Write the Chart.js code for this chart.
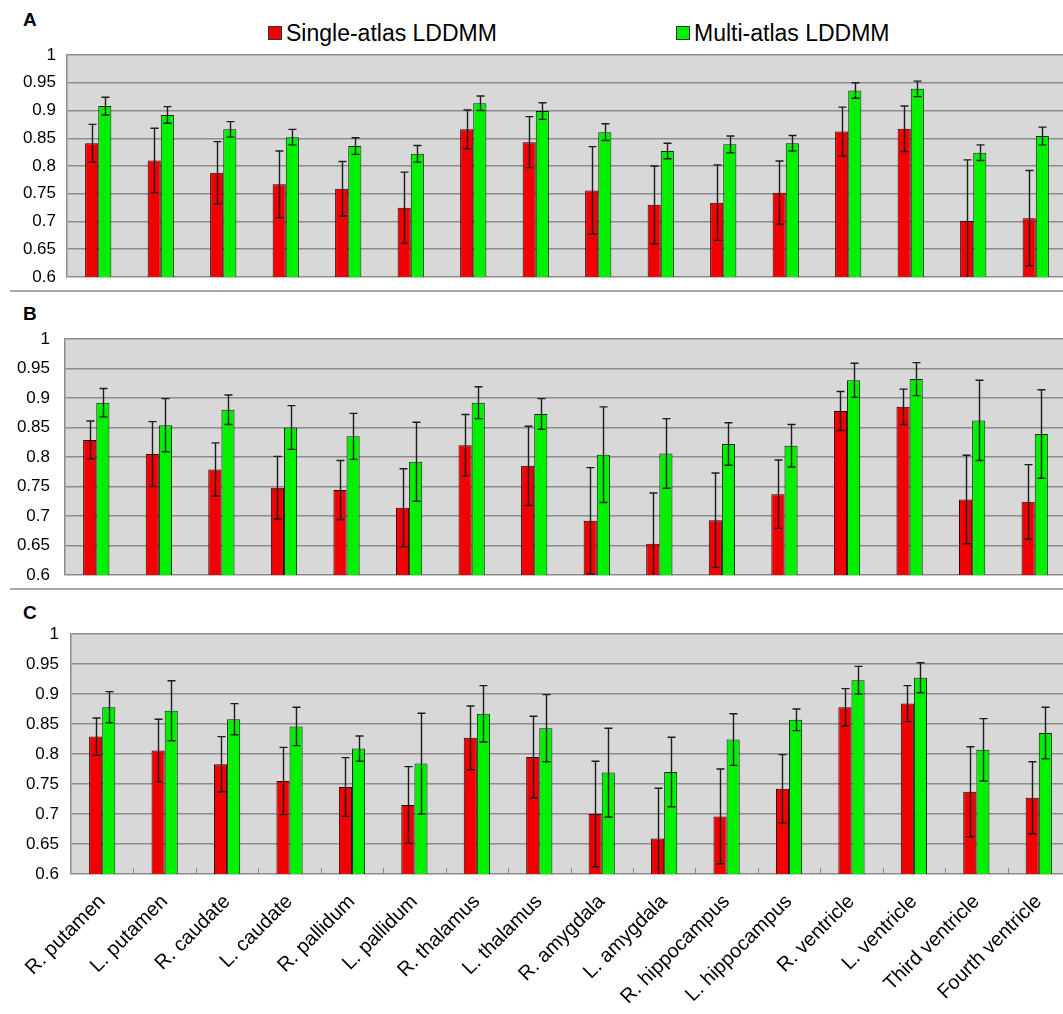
<!DOCTYPE html>
<html>
<head>
<meta charset="utf-8">
<script src="https://cdn.jsdelivr.net/npm/chart.js@4/dist/chart.umd.min.js"></script>
<style>
  html, body { margin: 0; padding: 0; background: #fff; }
  body { width: 1063px; height: 1014px; overflow: hidden; position: relative;
         font-family: "Liberation Sans", Arial, sans-serif; color: #000; }
  .panel { position: absolute; left: 0; width: 1075px; }
  .tag { position: absolute; left: 23px; font-weight: bold; font-size: 19px; line-height: 1; }
  .rule { position: absolute; left: 10px; width: 1060px; height: 0; border-top: 2px solid #a8a8a8; }
  .legend { position: absolute; top: 19px; font-size: 23px; line-height: 28px; display: flex; align-items: center; white-space: nowrap; }
  .legend i { display: inline-block; width: 12px; height: 12px; border: 1px solid #333; margin-right: 4px; }
</style>
</head>
<body>

<div class="legend" style="left:268px"><i style="background:#f20000"></i>Single-atlas LDDMM</div>
<div class="legend" style="left:676px"><i style="background:#00f000"></i>Multi-atlas LDDMM</div>

<div class="tag" style="top:10px">A</div>
<div class="tag" style="top:304px">B</div>
<div class="tag" style="top:603px">C</div>

<div class="rule" style="top:290px"></div>
<div class="rule" style="top:588px"></div>

<div class="panel" style="top:40px;height:250px"><canvas id="panelA"></canvas></div>
<div class="panel" style="top:320px;height:270px"><canvas id="panelB"></canvas></div>
<div class="panel" style="top:620px;height:394px"><canvas id="panelC"></canvas></div>

<script>
// Brain structures on the x axis
const structures = [
  'R. putamen', 'L. putamen', 'R. caudate', 'L. caudate',
  'R. pallidum', 'L. pallidum', 'R. thalamus', 'L. thalamus',
  'R. amygdala', 'L. amygdala', 'R. hippocampus', 'L. hippocampus',
  'R. ventricle', 'L. ventricle', 'Third ventricle', 'Fourth ventricle'
];

const seriesNames = ['Single-atlas LDDMM', 'Multi-atlas LDDMM'];

// Y axis ticks (Dice overlap)
const yTicks = [0.6, 0.65, 0.7, 0.75, 0.8, 0.85, 0.9, 0.95, 1];

// Panel A: means and standard deviations
const singleA    = [0.841, 0.810, 0.788, 0.767, 0.759, 0.725, 0.866, 0.843, 0.756, 0.730, 0.734, 0.752, 0.862, 0.867, 0.701, 0.706];
const singleA_sd = [0.034, 0.058, 0.056, 0.060, 0.049, 0.064, 0.035, 0.046, 0.079, 0.070, 0.068, 0.057, 0.044, 0.041, 0.110, 0.086];
const multiA     = [0.908, 0.892, 0.866, 0.852, 0.836, 0.822, 0.913, 0.899, 0.861, 0.827, 0.839, 0.841, 0.936, 0.939, 0.824, 0.854];
const multiA_sd  = [0.016, 0.015, 0.014, 0.014, 0.015, 0.015, 0.013, 0.015, 0.015, 0.014, 0.015, 0.014, 0.014, 0.014, 0.014, 0.016];

// Panel B
const singleB    = [0.829, 0.805, 0.779, 0.748, 0.744, 0.714, 0.820, 0.785, 0.692, 0.653, 0.693, 0.737, 0.878, 0.885, 0.728, 0.724];
const singleB_sd = [0.032, 0.055, 0.045, 0.053, 0.050, 0.066, 0.052, 0.067, 0.090, 0.086, 0.080, 0.058, 0.033, 0.030, 0.075, 0.063];
const multiB     = [0.892, 0.854, 0.880, 0.850, 0.835, 0.792, 0.892, 0.873, 0.804, 0.806, 0.822, 0.819, 0.930, 0.932, 0.862, 0.839];
const multiB_sd  = [0.024, 0.045, 0.025, 0.037, 0.039, 0.067, 0.027, 0.026, 0.081, 0.059, 0.036, 0.036, 0.029, 0.028, 0.068, 0.075];

// Panel C
const singleC    = [0.829, 0.806, 0.783, 0.755, 0.745, 0.715, 0.827, 0.795, 0.700, 0.659, 0.696, 0.742, 0.878, 0.884, 0.737, 0.727];
const singleC_sd = [0.031, 0.052, 0.046, 0.056, 0.049, 0.064, 0.053, 0.068, 0.088, 0.084, 0.079, 0.057, 0.031, 0.030, 0.075, 0.060];
const multiC     = [0.878, 0.872, 0.858, 0.846, 0.809, 0.784, 0.867, 0.843, 0.769, 0.770, 0.824, 0.857, 0.923, 0.927, 0.807, 0.835];
const multiC_sd  = [0.026, 0.050, 0.026, 0.032, 0.021, 0.084, 0.047, 0.056, 0.074, 0.058, 0.043, 0.018, 0.023, 0.025, 0.052, 0.043];

const FONT = '"Liberation Sans", Arial, sans-serif';
const RED = '#f20000';
const GREEN = '#00f000';
const GRID = '#8c8c8c';

// Grey plot background
const plotBackground = {
  id: 'plotBackground',
  beforeDraw(chart) {
    const { ctx, chartArea: a } = chart;
    ctx.save();
    ctx.fillStyle = '#d8d8d8';
    ctx.fillRect(a.left, a.top, a.right - a.left, a.bottom - a.top);
    ctx.restore();
  }
};

// Mean ± SD whiskers with caps at both ends
const errorBars = {
  id: 'errorBars',
  afterDatasetsDraw(chart) {
    const { ctx, chartArea: a, scales: { y } } = chart;
    ctx.save();
    ctx.beginPath();
    ctx.rect(a.left, a.top - 20, a.right - a.left, a.bottom - a.top + 20);
    ctx.clip();
    ctx.strokeStyle = '#1c1c1c';
    ctx.lineWidth = 1.4;
    chart.data.datasets.forEach((ds, di) => {
      chart.getDatasetMeta(di).data.forEach((bar, i) => {
        const m = ds.data[i], e = ds.errors[i];
        const yHi = y.getPixelForValue(m + e);
        const yLo = y.getPixelForValue(m - e);
        const x = Math.round(bar.x) + 0.5;
        const cap = 4;
        ctx.beginPath();
        ctx.moveTo(x, yHi); ctx.lineTo(x, yLo);
        ctx.moveTo(x - cap, yHi); ctx.lineTo(x + cap, yHi);
        ctx.moveTo(x - cap, yLo); ctx.lineTo(x + cap, yLo);
        ctx.stroke();
      });
    });
    ctx.restore();
  }
};

// Short upward ticks between categories on the bottom axis
const categoryTicks = {
  id: 'categoryTicks',
  afterDraw(chart, args, opts) {
    if (!opts.enabled) return;
    const { ctx, chartArea: a, scales: { x } } = chart;
    const n = chart.data.labels.length;
    ctx.save();
    ctx.strokeStyle = GRID;
    ctx.lineWidth = 1;
    ctx.beginPath();
    for (let i = 1; i < n; i++) {
      const bx = Math.round((x.getPixelForValue(i - 1) + x.getPixelForValue(i)) / 2) + 0.5;
      ctx.moveTo(bx, a.bottom);
      ctx.lineTo(bx, a.bottom - 6);
    }
    ctx.stroke();
    ctx.restore();
  }
};

function buildPanel(id, single, singleSd, multi, multiSd, cfg) {
  new Chart(document.getElementById(id), {
    type: 'bar',
    data: {
      labels: structures,
      datasets: [
        { label: seriesNames[0], data: single, errors: singleSd,
          backgroundColor: RED, borderColor: '#2a0000', borderWidth: 1 },
        { label: seriesNames[1], data: multi, errors: multiSd,
          backgroundColor: GREEN, borderColor: '#002a00', borderWidth: 1 }
      ]
    },
    options: {
      responsive: true,
      maintainAspectRatio: false,
      animation: false,
      devicePixelRatio: 1,
      datasets: { bar: { categoryPercentage: 0.42, barPercentage: 1.0 } },
      layout: { padding: { top: cfg.padTop, bottom: cfg.padBottom, left: 0, right: cfg.padRight } },
      plugins: {
        legend: { display: false },
        tooltip: { enabled: false },
        categoryTicks: { enabled: cfg.showLabels }
      },
      scales: {
        x: {
          display: cfg.showLabels,
          grid: { display: false },
          border: { display: false },
          ticks: {
            autoSkip: false,
            minRotation: 45,
            maxRotation: 45,
            padding: 8,
            color: '#000',
            font: { family: FONT, size: 20 }
          },
          afterFit(scale) { if (cfg.showLabels) scale.height = cfg.xHeight; }
        },
        y: {
          min: 0.6,
          max: 1,
          afterBuildTicks(scale) { scale.ticks = yTicks.map(v => ({ value: v })); },
          afterFit(scale) {
            scale.width = cfg.left;
            // the panel paddings already leave room for the end labels
            scale.paddingTop = 0;
            scale.paddingBottom = 0;
          },
          grid: { color: GRID, lineWidth: 1.5, drawTicks: false },
          border: { display: true, color: GRID, width: 1.5 },
          ticks: {
            padding: cfg.tickPad,
            color: '#000',
            font: { family: FONT, size: 17 },
            callback: v => String(Number(v.toFixed(2)))
          }
        }
      }
    },
    plugins: [plotBackground, errorBars, categoryTicks]
  });
}

buildPanel('panelA', singleA, singleA_sd, multiA, multiA_sd,
  { padTop: 15, padBottom: 13, padRight: 8, left: 67, tickPad: 11, showLabels: false });
buildPanel('panelB', singleB, singleB_sd, multiB, multiB_sd,
  { padTop: 19, padBottom: 15, padRight: 9, left: 65, tickPad: 15, showLabels: false });
buildPanel('panelC', singleC, singleC_sd, multiC, multiC_sd,
  { padTop: 14, padBottom: 0, padRight: 5, left: 71, tickPad: 12, showLabels: true, xHeight: 140 });
</script>
</body>
</html>
